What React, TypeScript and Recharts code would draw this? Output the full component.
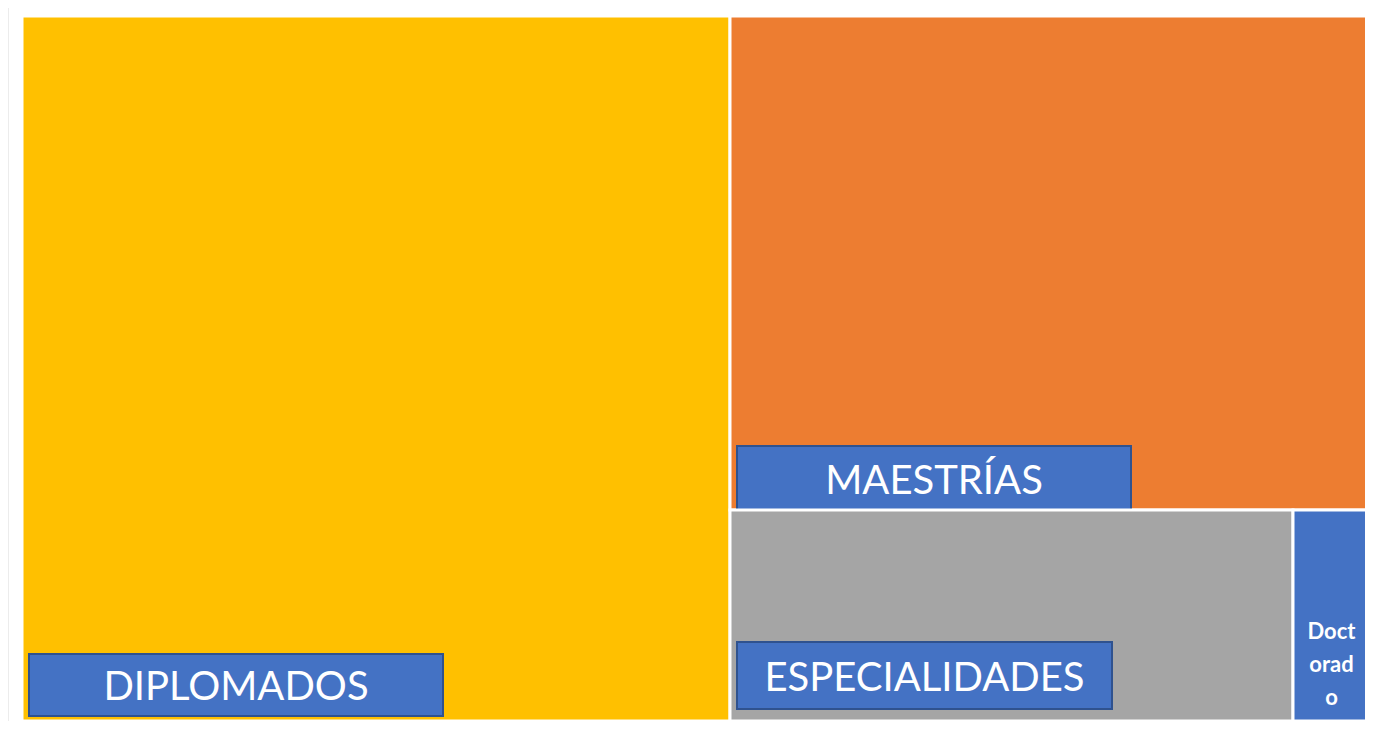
import React from "react"
import { Treemap } from "recharts"

const NAMES = ["DIPLOMADOS", "MAESTRÍAS", "ESPECIALIDADES", "Doctorado"]
const VALUES = [52.5, 33.3, 12.5, 1.7]
const COLORS = ["#FFC000", "#ED7D31", "#A5A5A5", "#4472C4"]

// label boxes (offset from node left / bottom)
const LABEL_BOX: Record<string, { dx: number; dy: number; w: number; h: number }> = {
  DIPLOMADOS: { dx: 7, dy: -67, w: 414, h: 62 },
  "MAESTRÍAS": { dx: 7, dy: -64, w: 394, h: 65 },
  ESPECIALIDADES: { dx: 7, dy: -79, w: 375, h: 67 },
}

const data = NAMES.map((name, i) => ({ name, size: VALUES[i] }))

const Cell = (props: any) => {
  const { x, y, width, height, name, depth, index } = props
  if (depth !== 1) return null
  const box = LABEL_BOX[name]
  return (
    <g>
      <rect x={x} y={y} width={width} height={height} fill={COLORS[index % COLORS.length]} stroke="#fff" strokeWidth={3} />
      {box && (
        <g>
          <rect
            x={x + box.dx}
            y={y + height + box.dy}
            width={box.w}
            height={box.h}
            fill="#4472C4"
            stroke="#2F528F"
            strokeWidth={2}
          />
          <text
            x={x + box.dx + box.w / 2}
            y={y + height + box.dy + box.h / 2}
            textAnchor="middle"
            dominantBaseline="central"
            fill="#fff"
            fontSize={40}
            fontFamily="Lato, sans-serif"
          >
            {name}
          </text>
        </g>
      )}
      {!box && (
        <text
          x={x + width / 2}
          y={y + height - 82}
          textAnchor="middle"
          fill="#fff"
          fontSize={22}
          fontWeight="bold"
          fontFamily="Lato, sans-serif"
        >
          <tspan x={x + width / 2}>Doct</tspan>
          <tspan x={x + width / 2} dy={33}>orad</tspan>
          <tspan x={x + width / 2} dy={33}>o</tspan>
        </text>
      )}
    </g>
  )
}

export default function App() {
  return (
    <div style={{ paddingLeft: 13, paddingTop: 8, borderLeft: "1px solid #ececec" }}>
      <div style={{ width: 1348, height: 705 }}>
        <Treemap
          width={1348}
          height={705}
          data={data}
          dataKey="size"
          nameKey="name"
          content={<Cell />}
          isAnimationActive={false}
        />
      </div>
    </div>
  )
}
